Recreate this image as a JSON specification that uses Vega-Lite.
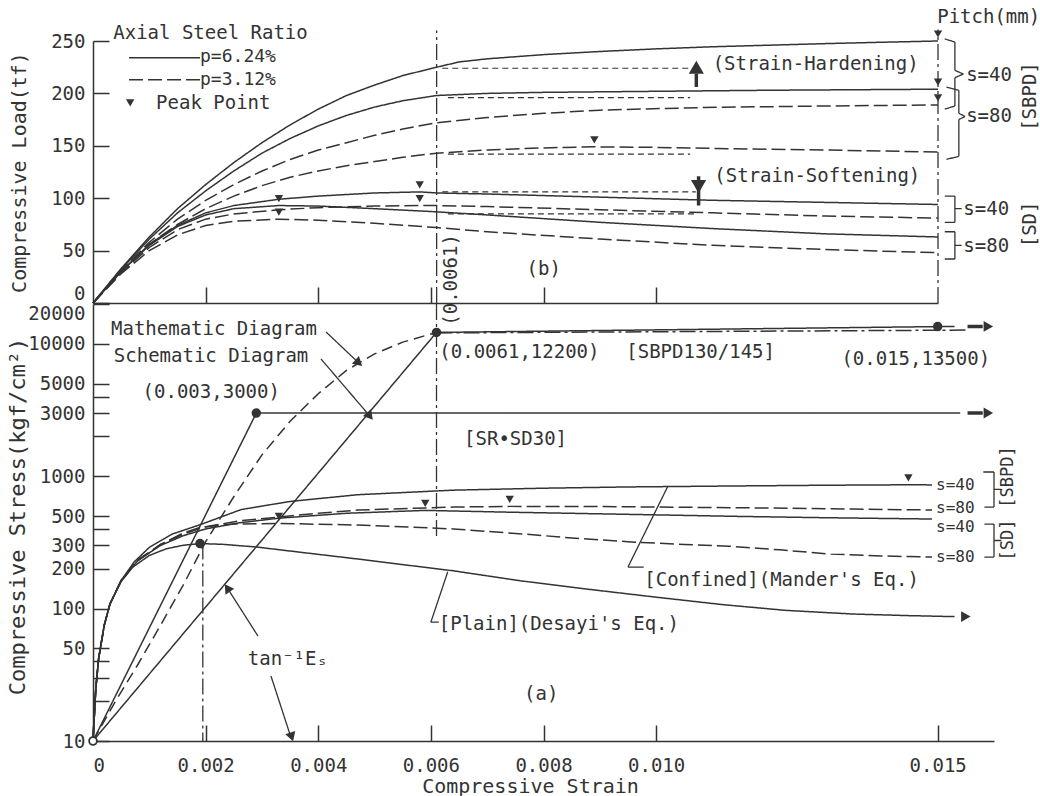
{
"$schema": "https://vega.github.io/schema/vega-lite/v6.json",
"background": "white",
"padding": {"left": 5, "top": 7, "right": 5, "bottom": 0},
"bounds": "flush",
"spacing": 1,
"config": {
 "view": {"stroke": null},
 "font": "DejaVu Sans Mono",
 "axis": {"domainColor": "#333", "domainWidth": 1.5, "tickColor": "#333", "tickWidth": 1.5, "labelColor": "#333", "titleColor": "#333", "labelFont": "DejaVu Sans Mono", "titleFont": "DejaVu Sans Mono", "labelFontSize": 19, "titleFontSize": 20, "titleFontWeight": "normal", "grid": false, "tickSize": -16, "labelPadding": 24},
 "text": {"font": "DejaVu Sans Mono", "fontSize": 19, "color": "#333"}
},
"resolve": {"scale": {"x": "independent", "y": "independent", "strokeDash": "independent", "strokeWidth": "independent"}},
"datasets": {
 "load": [
  {"series":"SBPD40","steel":"p=6.24%","strain":0,"load":0},{"series":"SBPD40","steel":"p=6.24%","strain":0.0005,"load":33},{"series":"SBPD40","steel":"p=6.24%","strain":0.001,"load":63},{"series":"SBPD40","steel":"p=6.24%","strain":0.0015,"load":90},{"series":"SBPD40","steel":"p=6.24%","strain":0.002,"load":113},{"series":"SBPD40","steel":"p=6.24%","strain":0.0025,"load":134},{"series":"SBPD40","steel":"p=6.24%","strain":0.003,"load":153},{"series":"SBPD40","steel":"p=6.24%","strain":0.0035,"load":170},{"series":"SBPD40","steel":"p=6.24%","strain":0.004,"load":185},{"series":"SBPD40","steel":"p=6.24%","strain":0.0045,"load":198},{"series":"SBPD40","steel":"p=6.24%","strain":0.005,"load":208},{"series":"SBPD40","steel":"p=6.24%","strain":0.0055,"load":217},{"series":"SBPD40","steel":"p=6.24%","strain":0.0061,"load":225},{"series":"SBPD40","steel":"p=6.24%","strain":0.0065,"load":230},{"series":"SBPD40","steel":"p=6.24%","strain":0.007,"load":233},{"series":"SBPD40","steel":"p=6.24%","strain":0.008,"load":237},{"series":"SBPD40","steel":"p=6.24%","strain":0.009,"load":240},{"series":"SBPD40","steel":"p=6.24%","strain":0.01,"load":242.5},{"series":"SBPD40","steel":"p=6.24%","strain":0.011,"load":244.5},{"series":"SBPD40","steel":"p=6.24%","strain":0.012,"load":246},{"series":"SBPD40","steel":"p=6.24%","strain":0.013,"load":247.5},{"series":"SBPD40","steel":"p=6.24%","strain":0.014,"load":248.8},{"series":"SBPD40","steel":"p=6.24%","strain":0.015,"load":250},
  {"series":"SBPD80","steel":"p=6.24%","strain":0,"load":0},{"series":"SBPD80","steel":"p=6.24%","strain":0.0005,"load":32},{"series":"SBPD80","steel":"p=6.24%","strain":0.001,"load":61},{"series":"SBPD80","steel":"p=6.24%","strain":0.0015,"load":86},{"series":"SBPD80","steel":"p=6.24%","strain":0.002,"load":107},{"series":"SBPD80","steel":"p=6.24%","strain":0.0025,"load":126},{"series":"SBPD80","steel":"p=6.24%","strain":0.003,"load":143},{"series":"SBPD80","steel":"p=6.24%","strain":0.0035,"load":157},{"series":"SBPD80","steel":"p=6.24%","strain":0.004,"load":169},{"series":"SBPD80","steel":"p=6.24%","strain":0.0045,"load":179},{"series":"SBPD80","steel":"p=6.24%","strain":0.005,"load":187},{"series":"SBPD80","steel":"p=6.24%","strain":0.0055,"load":193},{"series":"SBPD80","steel":"p=6.24%","strain":0.0061,"load":198},{"series":"SBPD80","steel":"p=6.24%","strain":0.007,"load":200},{"series":"SBPD80","steel":"p=6.24%","strain":0.008,"load":201},{"series":"SBPD80","steel":"p=6.24%","strain":0.01,"load":202},{"series":"SBPD80","steel":"p=6.24%","strain":0.012,"load":203},{"series":"SBPD80","steel":"p=6.24%","strain":0.015,"load":204},
  {"series":"SBPD40d","steel":"p=3.12%","strain":0,"load":0},{"series":"SBPD40d","steel":"p=3.12%","strain":0.0005,"load":31},{"series":"SBPD40d","steel":"p=3.12%","strain":0.001,"load":58},{"series":"SBPD40d","steel":"p=3.12%","strain":0.0015,"load":80},{"series":"SBPD40d","steel":"p=3.12%","strain":0.002,"load":98},{"series":"SBPD40d","steel":"p=3.12%","strain":0.0025,"load":113},{"series":"SBPD40d","steel":"p=3.12%","strain":0.003,"load":126},{"series":"SBPD40d","steel":"p=3.12%","strain":0.0035,"load":137},{"series":"SBPD40d","steel":"p=3.12%","strain":0.004,"load":146},{"series":"SBPD40d","steel":"p=3.12%","strain":0.0045,"load":153},{"series":"SBPD40d","steel":"p=3.12%","strain":0.005,"load":160},{"series":"SBPD40d","steel":"p=3.12%","strain":0.0055,"load":166},{"series":"SBPD40d","steel":"p=3.12%","strain":0.0061,"load":172},{"series":"SBPD40d","steel":"p=3.12%","strain":0.007,"load":177},{"series":"SBPD40d","steel":"p=3.12%","strain":0.008,"load":181},{"series":"SBPD40d","steel":"p=3.12%","strain":0.009,"load":184},{"series":"SBPD40d","steel":"p=3.12%","strain":0.0108,"load":186.5},{"series":"SBPD40d","steel":"p=3.12%","strain":0.013,"load":188},{"series":"SBPD40d","steel":"p=3.12%","strain":0.015,"load":189},
  {"series":"SBPD80d","steel":"p=3.12%","strain":0,"load":0},{"series":"SBPD80d","steel":"p=3.12%","strain":0.0005,"load":30},{"series":"SBPD80d","steel":"p=3.12%","strain":0.001,"load":56},{"series":"SBPD80d","steel":"p=3.12%","strain":0.0015,"load":75},{"series":"SBPD80d","steel":"p=3.12%","strain":0.002,"load":90},{"series":"SBPD80d","steel":"p=3.12%","strain":0.0025,"load":102},{"series":"SBPD80d","steel":"p=3.12%","strain":0.003,"load":112},{"series":"SBPD80d","steel":"p=3.12%","strain":0.0035,"load":120},{"series":"SBPD80d","steel":"p=3.12%","strain":0.004,"load":126},{"series":"SBPD80d","steel":"p=3.12%","strain":0.0045,"load":131},{"series":"SBPD80d","steel":"p=3.12%","strain":0.005,"load":135},{"series":"SBPD80d","steel":"p=3.12%","strain":0.0055,"load":139},{"series":"SBPD80d","steel":"p=3.12%","strain":0.0061,"load":143},{"series":"SBPD80d","steel":"p=3.12%","strain":0.007,"load":146},{"series":"SBPD80d","steel":"p=3.12%","strain":0.008,"load":148},{"series":"SBPD80d","steel":"p=3.12%","strain":0.0089,"load":149},{"series":"SBPD80d","steel":"p=3.12%","strain":0.01,"load":148.5},{"series":"SBPD80d","steel":"p=3.12%","strain":0.011,"load":147.5},{"series":"SBPD80d","steel":"p=3.12%","strain":0.013,"load":146},{"series":"SBPD80d","steel":"p=3.12%","strain":0.015,"load":144},
  {"series":"SD40","steel":"p=6.24%","strain":0,"load":0},{"series":"SD40","steel":"p=6.24%","strain":0.0005,"load":30},{"series":"SD40","steel":"p=6.24%","strain":0.001,"load":56},{"series":"SD40","steel":"p=6.24%","strain":0.0015,"load":74},{"series":"SD40","steel":"p=6.24%","strain":0.002,"load":86},{"series":"SD40","steel":"p=6.24%","strain":0.0025,"load":93},{"series":"SD40","steel":"p=6.24%","strain":0.0033,"load":99},{"series":"SD40","steel":"p=6.24%","strain":0.004,"load":102},{"series":"SD40","steel":"p=6.24%","strain":0.005,"load":105},{"series":"SD40","steel":"p=6.24%","strain":0.0058,"load":106},{"series":"SD40","steel":"p=6.24%","strain":0.0061,"load":105},{"series":"SD40","steel":"p=6.24%","strain":0.007,"load":104},{"series":"SD40","steel":"p=6.24%","strain":0.009,"load":101},{"series":"SD40","steel":"p=6.24%","strain":0.011,"load":98},{"series":"SD40","steel":"p=6.24%","strain":0.013,"load":96},{"series":"SD40","steel":"p=6.24%","strain":0.015,"load":94},
  {"series":"SD40d","steel":"p=3.12%","strain":0,"load":0},{"series":"SD40d","steel":"p=3.12%","strain":0.0005,"load":29},{"series":"SD40d","steel":"p=3.12%","strain":0.001,"load":53},{"series":"SD40d","steel":"p=3.12%","strain":0.0015,"load":70},{"series":"SD40d","steel":"p=3.12%","strain":0.002,"load":80},{"series":"SD40d","steel":"p=3.12%","strain":0.0025,"load":85},{"series":"SD40d","steel":"p=3.12%","strain":0.0033,"load":89},{"series":"SD40d","steel":"p=3.12%","strain":0.004,"load":91},{"series":"SD40d","steel":"p=3.12%","strain":0.005,"load":92.5},{"series":"SD40d","steel":"p=3.12%","strain":0.0058,"load":93},{"series":"SD40d","steel":"p=3.12%","strain":0.0061,"load":93},{"series":"SD40d","steel":"p=3.12%","strain":0.007,"load":92},{"series":"SD40d","steel":"p=3.12%","strain":0.009,"load":89},{"series":"SD40d","steel":"p=3.12%","strain":0.011,"load":86},{"series":"SD40d","steel":"p=3.12%","strain":0.013,"load":83},{"series":"SD40d","steel":"p=3.12%","strain":0.015,"load":81},
  {"series":"SD80","steel":"p=6.24%","strain":0,"load":0},{"series":"SD80","steel":"p=6.24%","strain":0.0005,"load":30},{"series":"SD80","steel":"p=6.24%","strain":0.001,"load":55},{"series":"SD80","steel":"p=6.24%","strain":0.0015,"load":73},{"series":"SD80","steel":"p=6.24%","strain":0.002,"load":84},{"series":"SD80","steel":"p=6.24%","strain":0.0025,"load":90},{"series":"SD80","steel":"p=6.24%","strain":0.0033,"load":93},{"series":"SD80","steel":"p=6.24%","strain":0.004,"load":92.5},{"series":"SD80","steel":"p=6.24%","strain":0.005,"load":90},{"series":"SD80","steel":"p=6.24%","strain":0.0061,"load":87},{"series":"SD80","steel":"p=6.24%","strain":0.007,"load":84},{"series":"SD80","steel":"p=6.24%","strain":0.009,"load":77},{"series":"SD80","steel":"p=6.24%","strain":0.011,"load":71},{"series":"SD80","steel":"p=6.24%","strain":0.013,"load":66},{"series":"SD80","steel":"p=6.24%","strain":0.015,"load":63},
  {"series":"SD80d","steel":"p=3.12%","strain":0,"load":0},{"series":"SD80d","steel":"p=3.12%","strain":0.0005,"load":28},{"series":"SD80d","steel":"p=3.12%","strain":0.001,"load":50},{"series":"SD80d","steel":"p=3.12%","strain":0.0015,"load":65},{"series":"SD80d","steel":"p=3.12%","strain":0.002,"load":74},{"series":"SD80d","steel":"p=3.12%","strain":0.0025,"load":78},{"series":"SD80d","steel":"p=3.12%","strain":0.0033,"load":80},{"series":"SD80d","steel":"p=3.12%","strain":0.004,"load":79},{"series":"SD80d","steel":"p=3.12%","strain":0.005,"load":76},{"series":"SD80d","steel":"p=3.12%","strain":0.0061,"load":72},{"series":"SD80d","steel":"p=3.12%","strain":0.007,"load":68},{"series":"SD80d","steel":"p=3.12%","strain":0.009,"load":61},{"series":"SD80d","steel":"p=3.12%","strain":0.011,"load":55},{"series":"SD80d","steel":"p=3.12%","strain":0.013,"load":51},{"series":"SD80d","steel":"p=3.12%","strain":0.015,"load":48}
 ],
 "seg_b": [
  {"kind":"short","strain":0.0062,"strain2":0.0106,"load":224,"load2":224},
  {"kind":"short","strain":0.0063,"strain2":0.0106,"load":196,"load2":196},
  {"kind":"short","strain":0.0063,"strain2":0.0106,"load":142,"load2":142},
  {"kind":"short","strain":0.0062,"strain2":0.0107,"load":106,"load2":106},
  {"kind":"short","strain":0.0063,"strain2":0.0107,"load":85,"load2":85},
  {"kind":"dashdot","strain":0.0061,"strain2":0.0061,"load":0,"load2":260},
  {"kind":"dashdot","strain":0.015,"strain2":0.015,"load":0,"load2":261},
  {"kind":"solid","strain":0.00064,"strain2":0.0019,"load":234,"load2":234},
  {"kind":"long","strain":0.00064,"strain2":0.0019,"load":213,"load2":213},
  {"kind":"thin","strain":0.01512,"strain2":0.0153,"load":252,"load2":249},
  {"kind":"thin","strain":0.0153,"strain2":0.0153,"load":249,"load2":222},
  {"kind":"thin","strain":0.0153,"strain2":0.01545,"load":222,"load2":218.5},
  {"kind":"thin","strain":0.01545,"strain2":0.0153,"load":218.5,"load2":215},
  {"kind":"thin","strain":0.0153,"strain2":0.0153,"load":215,"load2":188},
  {"kind":"thin","strain":0.0153,"strain2":0.01512,"load":188,"load2":185},
  {"kind":"thin","strain":0.01515,"strain2":0.01537,"load":206,"load2":203},
  {"kind":"thin","strain":0.01537,"strain2":0.01537,"load":203,"load2":181},
  {"kind":"thin","strain":0.01537,"strain2":0.01548,"load":181,"load2":178},
  {"kind":"thin","strain":0.01548,"strain2":0.01537,"load":178,"load2":175},
  {"kind":"thin","strain":0.01537,"strain2":0.01537,"load":175,"load2":140},
  {"kind":"thin","strain":0.01537,"strain2":0.01515,"load":140,"load2":137},
  {"kind":"thin","strain":0.01512,"strain2":0.0153,"load":102,"load2":102},
  {"kind":"thin","strain":0.0153,"strain2":0.0153,"load":102,"load2":77},
  {"kind":"thin","strain":0.0153,"strain2":0.01512,"load":77,"load2":77},
  {"kind":"thin","strain":0.0153,"strain2":0.01542,"load":90,"load2":90},
  {"kind":"thin","strain":0.01512,"strain2":0.0153,"load":68,"load2":68},
  {"kind":"thin","strain":0.0153,"strain2":0.0153,"load":68,"load2":42},
  {"kind":"thin","strain":0.0153,"strain2":0.01512,"load":42,"load2":42},
  {"kind":"thin","strain":0.0153,"strain2":0.01542,"load":55,"load2":55},
  {"kind":"shaft","strain":0.01071,"strain2":0.01071,"load":206,"load2":219},
  {"kind":"shaft","strain":0.01075,"strain2":0.01075,"load":121,"load2":93}
 ],
 "peak_b": [
  {"strain":0.015,"load":250},{"strain":0.015,"load":204},{"strain":0.015,"load":189},{"strain":0.0089,"load":149},
  {"strain":0.0058,"load":106},{"strain":0.0058,"load":93},{"strain":0.0033,"load":93},{"strain":0.0033,"load":80}
 ],
 "legend_b": [{"strain":0.00066,"load":191}],
 "heads_b": [
  {"kind":"up","strain":0.01071,"load":225},
  {"kind":"down","strain":0.01075,"load":111}
 ],
 "txt_b_left": [
  {"t":"Axial Steel Ratio","strain":0.00036,"load":257.5},
  {"t":"Peak Point","strain":0.00112,"load":191},
  {"t":"(Strain-Hardening)","strain":0.011,"load":228},
  {"t":"(Strain-Softening)","strain":0.01103,"load":121},
  {"t":"s=40","strain":0.0155,"load":218},
  {"t":"s=80","strain":0.0155,"load":178},
  {"t":"s=40","strain":0.01545,"load":90},
  {"t":"s=80","strain":0.01545,"load":54}
 ],
 "txt_b_legend": [
  {"t":"p=6.24%","strain":0.0019,"load":235},
  {"t":"p=3.12%","strain":0.0019,"load":213}
 ],
 "txt_b_center": [
  {"t":"(b)","strain":0.008,"load":32},
  {"t":"Pitch(mm)","strain":0.0159,"load":273}
 ],
 "txt_b_rot": [
  {"t":"(0.0061)","strain":0.00636,"load":22},
  {"t":"[SBPD]","strain":0.01663,"load":197},
  {"t":"[SD]","strain":0.01663,"load":75}
 ],
 "stress": [
  {"series":"M1","dash":"solid","strain":0,"stress":10},{"series":"M1","dash":"solid","strain":0.00005,"stress":25},{"series":"M1","dash":"solid","strain":0.0001,"stress":42},{"series":"M1","dash":"solid","strain":0.0002,"stress":75},{"series":"M1","dash":"solid","strain":0.0003,"stress":108},{"series":"M1","dash":"solid","strain":0.0005,"stress":163},{"series":"M1","dash":"solid","strain":0.00073,"stress":225},{"series":"M1","dash":"solid","strain":0.001,"stress":290},{"series":"M1","dash":"solid","strain":0.0014,"stress":365},{"series":"M1","dash":"solid","strain":0.0019,"stress":430},{"series":"M1","dash":"solid","strain":0.00263,"stress":560},{"series":"M1","dash":"solid","strain":0.0035,"stress":645},{"series":"M1","dash":"solid","strain":0.0047,"stress":725},{"series":"M1","dash":"solid","strain":0.0064,"stress":785},{"series":"M1","dash":"solid","strain":0.008,"stress":812},{"series":"M1","dash":"solid","strain":0.0095,"stress":830},{"series":"M1","dash":"solid","strain":0.0115,"stress":845},{"series":"M1","dash":"solid","strain":0.013,"stress":855},{"series":"M1","dash":"solid","strain":0.0145,"stress":862},{"series":"M1","dash":"solid","strain":0.0149,"stress":860},
  {"series":"M2","dash":"long","strain":0,"stress":10},{"series":"M2","dash":"long","strain":0.00005,"stress":25},{"series":"M2","dash":"long","strain":0.0001,"stress":42},{"series":"M2","dash":"long","strain":0.0002,"stress":75},{"series":"M2","dash":"long","strain":0.0003,"stress":108},{"series":"M2","dash":"long","strain":0.0005,"stress":163},{"series":"M2","dash":"long","strain":0.0008,"stress":235},{"series":"M2","dash":"long","strain":0.0012,"stress":305},{"series":"M2","dash":"long","strain":0.0016,"stress":365},{"series":"M2","dash":"long","strain":0.002,"stress":415},{"series":"M2","dash":"long","strain":0.0026,"stress":460},{"series":"M2","dash":"long","strain":0.0033,"stress":492},{"series":"M2","dash":"long","strain":0.004,"stress":525},{"series":"M2","dash":"long","strain":0.0047,"stress":555},{"series":"M2","dash":"long","strain":0.0064,"stress":585},{"series":"M2","dash":"long","strain":0.0074,"stress":592},{"series":"M2","dash":"long","strain":0.009,"stress":590},{"series":"M2","dash":"long","strain":0.0105,"stress":583},{"series":"M2","dash":"long","strain":0.012,"stress":575},{"series":"M2","dash":"long","strain":0.0135,"stress":565},{"series":"M2","dash":"long","strain":0.0149,"stress":556},
  {"series":"M3","dash":"solid","strain":0,"stress":10},{"series":"M3","dash":"solid","strain":0.00005,"stress":25},{"series":"M3","dash":"solid","strain":0.0001,"stress":42},{"series":"M3","dash":"solid","strain":0.0002,"stress":75},{"series":"M3","dash":"solid","strain":0.0003,"stress":108},{"series":"M3","dash":"solid","strain":0.0005,"stress":163},{"series":"M3","dash":"solid","strain":0.0008,"stress":232},{"series":"M3","dash":"solid","strain":0.0012,"stress":300},{"series":"M3","dash":"solid","strain":0.0016,"stress":355},{"series":"M3","dash":"solid","strain":0.002,"stress":400},{"series":"M3","dash":"solid","strain":0.0026,"stress":445},{"series":"M3","dash":"solid","strain":0.0033,"stress":482},{"series":"M3","dash":"solid","strain":0.0045,"stress":525},{"series":"M3","dash":"solid","strain":0.0059,"stress":552},{"series":"M3","dash":"solid","strain":0.0074,"stress":535},{"series":"M3","dash":"solid","strain":0.009,"stress":520},{"series":"M3","dash":"solid","strain":0.0115,"stress":497},{"series":"M3","dash":"solid","strain":0.013,"stress":486},{"series":"M3","dash":"solid","strain":0.0149,"stress":475},
  {"series":"M4","dash":"long","strain":0,"stress":10},{"series":"M4","dash":"long","strain":0.00005,"stress":25},{"series":"M4","dash":"long","strain":0.0001,"stress":42},{"series":"M4","dash":"long","strain":0.0002,"stress":75},{"series":"M4","dash":"long","strain":0.0003,"stress":108},{"series":"M4","dash":"long","strain":0.0005,"stress":163},{"series":"M4","dash":"long","strain":0.0008,"stress":230},{"series":"M4","dash":"long","strain":0.0012,"stress":305},{"series":"M4","dash":"long","strain":0.0016,"stress":372},{"series":"M4","dash":"long","strain":0.0019,"stress":410},{"series":"M4","dash":"long","strain":0.0025,"stress":435},{"series":"M4","dash":"long","strain":0.0033,"stress":440},{"series":"M4","dash":"long","strain":0.0047,"stress":428},{"series":"M4","dash":"long","strain":0.0064,"stress":400},{"series":"M4","dash":"long","strain":0.0075,"stress":370},{"series":"M4","dash":"long","strain":0.0085,"stress":342},{"series":"M4","dash":"long","strain":0.0095,"stress":320},{"series":"M4","dash":"long","strain":0.0105,"stress":305},{"series":"M4","dash":"long","strain":0.0113,"stress":296},{"series":"M4","dash":"long","strain":0.0122,"stress":278},{"series":"M4","dash":"long","strain":0.0131,"stress":258},{"series":"M4","dash":"long","strain":0.014,"stress":250},{"series":"M4","dash":"long","strain":0.0149,"stress":245},
  {"series":"Desayi","dash":"solid","strain":0,"stress":10},{"series":"Desayi","dash":"solid","strain":0.00005,"stress":25},{"series":"Desayi","dash":"solid","strain":0.0001,"stress":42},{"series":"Desayi","dash":"solid","strain":0.0002,"stress":75},{"series":"Desayi","dash":"solid","strain":0.0003,"stress":108},{"series":"Desayi","dash":"solid","strain":0.0005,"stress":160},{"series":"Desayi","dash":"solid","strain":0.0007,"stress":205},{"series":"Desayi","dash":"solid","strain":0.001,"stress":252},{"series":"Desayi","dash":"solid","strain":0.0013,"stress":283},{"series":"Desayi","dash":"solid","strain":0.0016,"stress":301},{"series":"Desayi","dash":"solid","strain":0.0019,"stress":310},{"series":"Desayi","dash":"solid","strain":0.0023,"stress":306},{"series":"Desayi","dash":"solid","strain":0.0029,"stress":292},{"series":"Desayi","dash":"solid","strain":0.0038,"stress":263},{"series":"Desayi","dash":"solid","strain":0.0047,"stress":237},{"series":"Desayi","dash":"solid","strain":0.0055,"stress":215},{"series":"Desayi","dash":"solid","strain":0.0064,"stress":193},{"series":"Desayi","dash":"solid","strain":0.0076,"stress":162},{"series":"Desayi","dash":"solid","strain":0.0088,"stress":140},{"series":"Desayi","dash":"solid","strain":0.01,"stress":122},{"series":"Desayi","dash":"solid","strain":0.0112,"stress":107},{"series":"Desayi","dash":"solid","strain":0.0123,"stress":97},{"series":"Desayi","dash":"solid","strain":0.0135,"stress":91},{"series":"Desayi","dash":"solid","strain":0.0145,"stress":88.5},{"series":"Desayi","dash":"solid","strain":0.0153,"stress":87},
  {"series":"SR","dash":"solid","strain":0,"stress":10},{"series":"SR","dash":"solid","strain":0.0029,"stress":3000},{"series":"SR","dash":"solid","strain":0.0154,"stress":3000},
  {"series":"Schem","dash":"solid","strain":0,"stress":10},{"series":"Schem","dash":"solid","strain":0.0061,"stress":12200},{"series":"Schem","dash":"solid","strain":0.015,"stress":13500},{"series":"Schem","dash":"solid","strain":0.0153,"stress":13550},
  {"series":"Math","dash":"math","strain":0,"stress":10},{"series":"Math","dash":"math","strain":0.0004,"stress":20},{"series":"Math","dash":"math","strain":0.0008,"stress":38},{"series":"Math","dash":"math","strain":0.0012,"stress":75},{"series":"Math","dash":"math","strain":0.0016,"stress":150},{"series":"Math","dash":"math","strain":0.002,"stress":320},{"series":"Math","dash":"math","strain":0.0025,"stress":700},{"series":"Math","dash":"math","strain":0.003,"stress":1450},{"series":"Math","dash":"math","strain":0.0035,"stress":2600},{"series":"Math","dash":"math","strain":0.004,"stress":4200},{"series":"Math","dash":"math","strain":0.0045,"stress":6300},{"series":"Math","dash":"math","strain":0.005,"stress":8400},{"series":"Math","dash":"math","strain":0.0055,"stress":10300},{"series":"Math","dash":"math","strain":0.0061,"stress":12200},
  {"series":"MathCont","dash":"dashdot","strain":0.0061,"stress":12100},{"series":"MathCont","dash":"dashdot","strain":0.0155,"stress":12700}
 ],
 "seg_a": [
  {"kind":"dashdot","strain":0.0061,"strain2":0.0061,"stress":20000,"stress2":340},
  {"kind":"dashdot","strain":0.00195,"strain2":0.00195,"stress":310,"stress2":10},
  {"kind":"shaft","strain":0.01553,"strain2":0.0158,"stress":3000,"stress2":3000},
  {"kind":"shaft","strain":0.01553,"strain2":0.0158,"stress":13550,"stress2":13550},
  {"kind":"thin","strain":0.00414,"strain2":0.0047,"stress":12270,"stress2":7300},
  {"kind":"thin","strain":0.00405,"strain2":0.0049,"stress":7680,"stress2":2900},
  {"kind":"thin","strain":0.00293,"strain2":0.0024,"stress":62,"stress2":140},
  {"kind":"thin","strain":0.00316,"strain2":0.00352,"stress":31,"stress2":10.5},
  {"kind":"thin","strain":0.006,"strain2":0.0063,"stress":79,"stress2":190},
  {"kind":"thin","strain":0.006,"strain2":0.00614,"stress":79,"stress2":79},
  {"kind":"thin","strain":0.0095,"strain2":0.01021,"stress":206,"stress2":843},
  {"kind":"thin","strain":0.0095,"strain2":0.00978,"stress":206,"stress2":206},
  {"kind":"thin","strain":0.01581,"strain2":0.016,"stress":1076,"stress2":1076},
  {"kind":"thin","strain":0.016,"strain2":0.016,"stress":1076,"stress2":585},
  {"kind":"thin","strain":0.016,"strain2":0.01583,"stress":585,"stress2":585},
  {"kind":"thin","strain":0.016,"strain2":0.01613,"stress":795,"stress2":795},
  {"kind":"thin","strain":0.01583,"strain2":0.016,"stress":435,"stress2":435},
  {"kind":"thin","strain":0.016,"strain2":0.016,"stress":435,"stress2":245},
  {"kind":"thin","strain":0.016,"strain2":0.01583,"stress":245,"stress2":245},
  {"kind":"thin","strain":0.016,"strain2":0.01613,"stress":327,"stress2":327}
 ],
 "dots_a": [
  {"strain":0.0029,"stress":3000},{"strain":0.0061,"stress":12200},{"strain":0.015,"stress":13500},{"strain":0.0019,"stress":310}
 ],
 "open_a": [{"strain":0,"stress":10}],
 "right_a": [
  {"strain":0.0159,"stress":3000},
  {"strain":0.0159,"stress":13550},
  {"strain":0.0155,"stress":87}
 ],
 "heads_a": [
  {"dir":"tan1","strain":0.0024,"stress":140},
  {"dir":"tan2","strain":0.00352,"stress":11},
  {"dir":"math","strain":0.0047,"stress":7300},
  {"dir":"schem","strain":0.0049,"stress":2900}
 ],
 "peak_a": [
  {"strain":0.01448,"stress":862},{"strain":0.0074,"stress":592},{"strain":0.0059,"stress":552},{"strain":0.0033,"stress":440}
 ],
 "txt_a_left": [
  {"t":"Mathematic Diagram","strain":0.00032,"stress":12950},
  {"t":"Schematic Diagram","strain":0.00037,"stress":8100},
  {"t":"(0.0061,12200)","strain":0.00615,"stress":8670},
  {"t":"[SBPD130/145]","strain":0.00947,"stress":8670},
  {"t":"(0.015,13500)","strain":0.01329,"stress":7680},
  {"t":"[SR•SD30]","strain":0.00659,"stress":1910},
  {"t":"[Confined](Mander's Eq.)","strain":0.00979,"stress":165},
  {"t":"[Plain](Desayi's Eq.)","strain":0.00614,"stress":77}
 ],
 "txt_a_center": [
  {"t":"(0.003,3000)","strain":0.0021,"stress":4330},
  {"t":"tan⁻¹Eₛ","strain":0.00346,"stress":41.6},
  {"t":"(a)","strain":0.00796,"stress":22.6}
 ],
 "txt_a_small": [
  {"t":"s=40","strain":0.01497,"stress":860},
  {"t":"s=80","strain":0.01497,"stress":578},
  {"t":"s=40","strain":0.01497,"stress":412},
  {"t":"s=80","strain":0.01497,"stress":245}
 ],
 "txt_a_rot": [
  {"t":"[SBPD]","strain":0.01625,"stress":986},
  {"t":"[SD]","strain":0.01625,"stress":330}
 ]
},
"vconcat": [
 {
  "width": 845,
  "height": 262,
  "resolve": {"scale": {"strokeDash": "independent", "strokeWidth": "independent", "shape": "independent"}},
  "layer": [
   {
    "data": {"name": "load"},
    "mark": {"type": "line", "strokeWidth": 1.5, "color": "#333"},
    "encoding": {
     "x": {"field": "strain", "type": "quantitative", "scale": {"domain": [0, 0.015], "nice": false, "zero": false}, "axis": {"values": [0.002, 0.004, 0.006, 0.008, 0.01], "labels": false, "title": null}},
     "y": {"field": "load", "type": "quantitative", "scale": {"domain": [0, 250], "nice": false}, "axis": {"values": [0, 50, 100, 150, 200, 250], "title": "Compressive Load(tf)", "titleX": -64, "labelBaseline": {"condition": {"test": "datum.value == 0", "value": "bottom"}, "value": "middle"}}},
     "detail": {"field": "series"},
     "strokeDash": {"field": "steel", "type": "nominal", "scale": {"domain": ["p=6.24%", "p=3.12%"], "range": [[1, 0], [14, 5]]}, "legend": null}
    }
   },
   {
    "data": {"name": "seg_b"},
    "mark": {"type": "rule", "color": "#333"},
    "encoding": {
     "x": {"field": "strain", "type": "quantitative"},
     "x2": {"field": "strain2"},
     "y": {"field": "load", "type": "quantitative"},
     "y2": {"field": "load2"},
     "strokeDash": {"field": "kind", "type": "nominal", "scale": {"domain": ["solid", "long", "short", "dashdot", "thin", "shaft"], "range": [[1, 0], [14, 5], [6, 4], [16, 4, 3, 4], [1, 0], [1, 0]]}, "legend": null},
     "strokeWidth": {"field": "kind", "type": "nominal", "scale": {"type": "ordinal", "domain": ["solid", "long", "short", "dashdot", "thin", "shaft"], "range": [1.5, 1.5, 1.2, 1.3, 1.3, 3.5]}, "legend": null}
    }
   },
   {
    "data": {"name": "peak_b"},
    "mark": {"type": "point", "shape": "triangle-down", "filled": true, "size": 70, "yOffset": -7, "color": "#333", "opacity": 1},
    "encoding": {"x": {"field": "strain", "type": "quantitative"}, "y": {"field": "load", "type": "quantitative"}}
   },
   {
    "data": {"name": "legend_b"},
    "mark": {"type": "point", "shape": "triangle-down", "filled": true, "size": 70, "color": "#333", "opacity": 1},
    "encoding": {"x": {"field": "strain", "type": "quantitative"}, "y": {"field": "load", "type": "quantitative"}}
   },
   {
    "data": {"name": "heads_b"},
    "mark": {"type": "point", "filled": true, "size": 230, "color": "#333", "opacity": 1},
    "encoding": {
     "x": {"field": "strain", "type": "quantitative"},
     "y": {"field": "load", "type": "quantitative"},
     "shape": {"field": "kind", "type": "nominal", "scale": {"domain": ["up", "down"], "range": ["triangle-up", "triangle-down"]}, "legend": null}
    }
   },
   {
    "data": {"name": "txt_b_left"},
    "mark": {"type": "text", "align": "left", "baseline": "middle"},
    "encoding": {"x": {"field": "strain", "type": "quantitative"}, "y": {"field": "load", "type": "quantitative"}, "text": {"field": "t"}}
   },
   {
    "data": {"name": "txt_b_legend"},
    "mark": {"type": "text", "align": "left", "baseline": "middle", "fontSize": 18},
    "encoding": {"x": {"field": "strain", "type": "quantitative"}, "y": {"field": "load", "type": "quantitative"}, "text": {"field": "t"}}
   },
   {
    "data": {"name": "txt_b_center"},
    "mark": {"type": "text", "align": "center", "baseline": "middle"},
    "encoding": {"x": {"field": "strain", "type": "quantitative"}, "y": {"field": "load", "type": "quantitative"}, "text": {"field": "t"}}
   },
   {
    "data": {"name": "txt_b_rot"},
    "mark": {"type": "text", "align": "center", "baseline": "middle", "angle": 270},
    "encoding": {"x": {"field": "strain", "type": "quantitative"}, "y": {"field": "load", "type": "quantitative"}, "text": {"field": "t"}}
   }
  ]
 },
 {
  "width": 901,
  "height": 437,
  "resolve": {"scale": {"strokeDash": "independent", "strokeWidth": "independent", "angle": "independent"}},
  "layer": [
   {
    "data": {"name": "stress"},
    "mark": {"type": "line", "strokeWidth": 1.5, "color": "#333"},
    "encoding": {
     "x": {"field": "strain", "type": "quantitative", "scale": {"domain": [0, 0.016], "nice": false, "zero": false}, "axis": {"values": [0, 0.002, 0.004, 0.006, 0.008, 0.01, 0.015], "labelExpr": "datum.value == 0 ? '0' : format(datum.value, '.3f')", "labelPadding": 31, "title": "Compressive Strain", "titlePadding": 1, "titleX": 437}},
     "y": {"field": "stress", "type": "quantitative", "scale": {"type": "log", "domain": [10, 20000], "nice": false}, "axis": {"values": [10, 20, 30, 40, 50, 100, 200, 300, 400, 500, 1000, 2000, 3000, 4000, 5000, 10000, 20000], "labelExpr": "indexof([10,50,100,200,300,500,1000,3000,5000,10000,20000], datum.value) >= 0 ? format(datum.value, 'd') : ''", "title": "Compressive Stress(kgf/cm²)", "titleX": -64, "titleFontSize": 22, "titleY": 212, "labelBaseline": {"condition": {"test": "datum.value == 20000", "value": "top"}, "value": "middle"}}},
     "detail": {"field": "series"},
     "strokeDash": {"field": "dash", "type": "nominal", "scale": {"domain": ["solid", "long", "math", "dashdot"], "range": [[1, 0], [14, 5], [11, 6], [16, 4, 3, 4]]}, "legend": null}
    }
   },
   {
    "data": {"name": "seg_a"},
    "mark": {"type": "rule", "color": "#333"},
    "encoding": {
     "x": {"field": "strain", "type": "quantitative"},
     "x2": {"field": "strain2"},
     "y": {"field": "stress", "type": "quantitative"},
     "y2": {"field": "stress2"},
     "strokeDash": {"field": "kind", "type": "nominal", "scale": {"domain": ["dashdot", "thin", "shaft"], "range": [[16, 4, 3, 4], [1, 0], [1, 0]]}, "legend": null},
     "strokeWidth": {"field": "kind", "type": "nominal", "scale": {"type": "ordinal", "domain": ["dashdot", "thin", "shaft"], "range": [1.3, 1.3, 3.5]}, "legend": null}
    }
   },
   {
    "data": {"name": "dots_a"},
    "mark": {"type": "point", "shape": "circle", "filled": true, "size": 90, "color": "#333", "opacity": 1},
    "encoding": {"x": {"field": "strain", "type": "quantitative"}, "y": {"field": "stress", "type": "quantitative"}}
   },
   {
    "data": {"name": "open_a"},
    "mark": {"type": "point", "shape": "circle", "filled": false, "fill": "white", "stroke": "#333", "strokeWidth": 1.8, "size": 60, "opacity": 1},
    "encoding": {"x": {"field": "strain", "type": "quantitative"}, "y": {"field": "stress", "type": "quantitative"}}
   },
   {
    "data": {"name": "right_a"},
    "mark": {"type": "point", "shape": "triangle-right", "filled": true, "size": 120, "color": "#333", "opacity": 1},
    "encoding": {"x": {"field": "strain", "type": "quantitative"}, "y": {"field": "stress", "type": "quantitative"}}
   },
   {
    "data": {"name": "heads_a"},
    "mark": {"type": "point", "shape": "triangle", "filled": true, "size": 110, "color": "#333", "opacity": 1},
    "encoding": {
     "x": {"field": "strain", "type": "quantitative"},
     "y": {"field": "stress", "type": "quantitative"},
     "angle": {"field": "dir", "type": "nominal", "scale": {"type": "ordinal", "domain": ["tan1", "tan2", "math", "schem"], "range": [326, 162, 132, 140]}, "legend": null}
    }
   },
   {
    "data": {"name": "peak_a"},
    "mark": {"type": "point", "shape": "triangle-down", "filled": true, "size": 70, "yOffset": -7, "color": "#333", "opacity": 1},
    "encoding": {"x": {"field": "strain", "type": "quantitative"}, "y": {"field": "stress", "type": "quantitative"}}
   },
   {
    "data": {"name": "txt_a_left"},
    "mark": {"type": "text", "align": "left", "baseline": "middle"},
    "encoding": {"x": {"field": "strain", "type": "quantitative"}, "y": {"field": "stress", "type": "quantitative"}, "text": {"field": "t"}}
   },
   {
    "data": {"name": "txt_a_center"},
    "mark": {"type": "text", "align": "center", "baseline": "middle"},
    "encoding": {"x": {"field": "strain", "type": "quantitative"}, "y": {"field": "stress", "type": "quantitative"}, "text": {"field": "t"}}
   },
   {
    "data": {"name": "txt_a_small"},
    "mark": {"type": "text", "align": "left", "baseline": "middle", "fontSize": 16},
    "encoding": {"x": {"field": "strain", "type": "quantitative"}, "y": {"field": "stress", "type": "quantitative"}, "text": {"field": "t"}}
   },
   {
    "data": {"name": "txt_a_rot"},
    "mark": {"type": "text", "align": "center", "baseline": "middle", "angle": 270, "fontSize": 17},
    "encoding": {"x": {"field": "strain", "type": "quantitative"}, "y": {"field": "stress", "type": "quantitative"}, "text": {"field": "t"}}
   }
  ]
 }
]
}
